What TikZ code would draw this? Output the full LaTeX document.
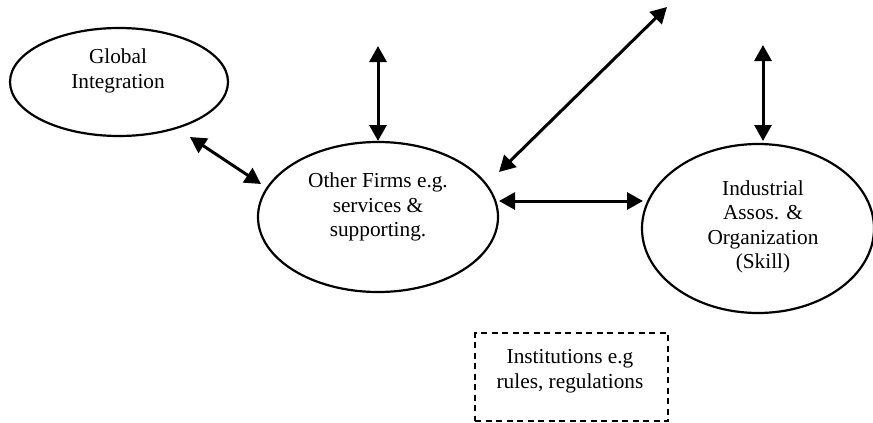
\documentclass[tikz,border=0pt]{standalone}
\usepackage{fontspec}
\setmainfont{Liberation Serif}
\usetikzlibrary{shapes.geometric,arrows.meta}
\begin{document}
\begin{tikzpicture}[x=1pt,y=-1pt,
  oval/.style={draw=black,line width=2.2pt,ellipse,inner sep=0pt},
  lbl/.style={align=center,font=\fontsize{21.3}{24.5}\selectfont,inner sep=0pt},
  link/.style={line width=3pt,{Triangle[length=16pt,width=17pt]}-{Triangle[length=16pt,width=17pt]}},
  dbox/.style={draw=black,line width=1.6pt,dash pattern=on 6pt off 4.5pt}]
\useasboundingbox (0,0) rectangle (873,423);
% ellipses
\node[oval,minimum width=218pt,minimum height=108pt] (g) at (119,82) {};
\node[oval,minimum width=240pt,minimum height=150pt] (o) at (378,217) {};
\node[oval,minimum width=232pt,minimum height=169pt] (ind) at (758,228.5) {};
% texts
\node[lbl] (gt) at (118,71) {Global\\Integration};
\node[lbl] (ot) at (378,207) {Other Firms e.g.\\services \&\\supporting.};
\node[lbl] (it) at (763,227) {Industrial\\Assos. \&\\Organization\\(Skill)};
% institutions box
\node[dbox,minimum width=193pt,minimum height=88pt,inner sep=0pt] (inst) at (571.5,377) {};
\node[lbl] (instt) at (570,371) {Institutions e.g\\rules, regulations};
% arrow end points
\coordinate (g1) at (190,137);
\coordinate (o1) at (261,184);
\coordinate (ot1) at (378,46);
\coordinate (ot2) at (378,141);
\coordinate (od1) at (499,172);
\coordinate (od2) at (667,7);
\coordinate (oh1) at (499,201);
\coordinate (ih1) at (643,201);
\coordinate (it1) at (763,45);
\coordinate (it2) at (763,141);
% connectors
\draw[link] (g1) -- (o1);
\draw[link] (ot1) -- (ot2);
\draw[link] (od1) -- (od2);
\draw[link] (oh1) -- (ih1);
\draw[link] (it1) -- (it2);
\end{tikzpicture}
\end{document}
